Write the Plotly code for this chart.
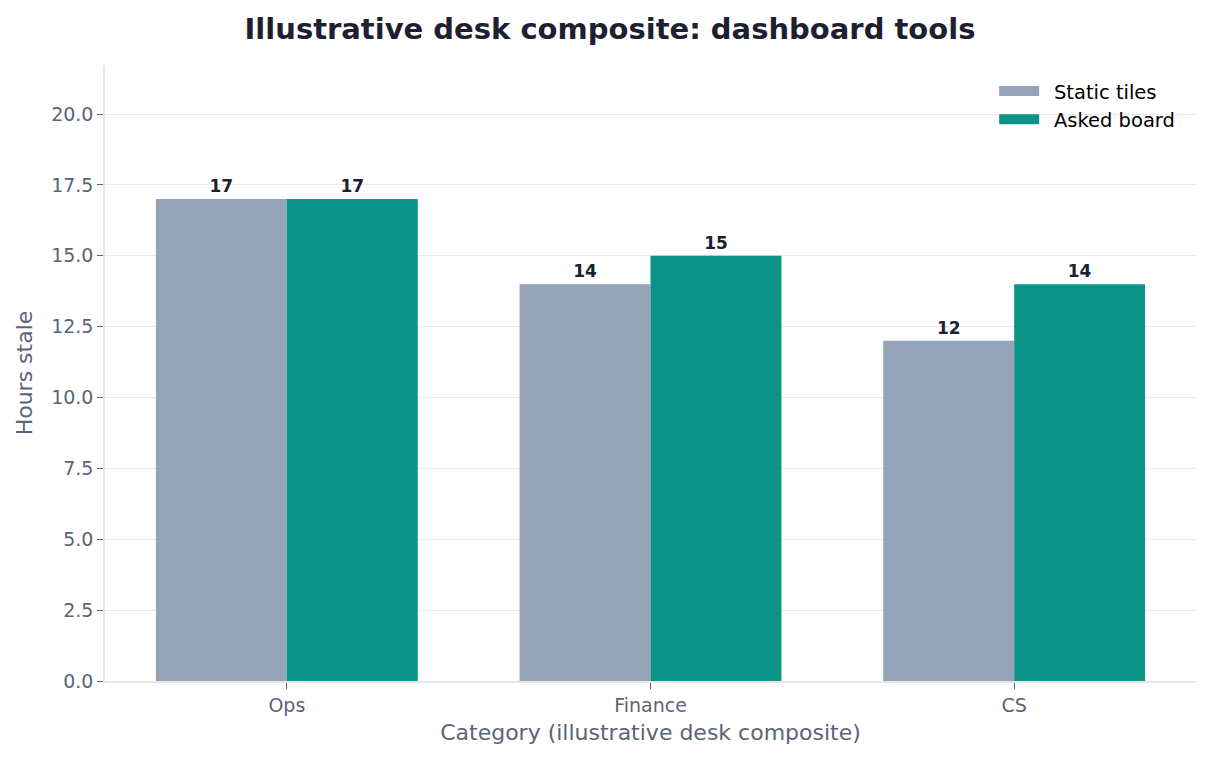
import plotly.graph_objects as go

categories = ["Ops", "Finance", "CS"]
static_tiles = [17, 14, 12]
asked_board = [17, 15, 14]

FONT = "DejaVu Sans"
AXIS_GREY = "#5b6477"

series = [
    ("Static tiles", static_tiles, "#94a3b8"),
    ("Asked board", asked_board, "#0d9488"),
]

fig = go.Figure()
for name, vals, color in series:
    fig.add_trace(
        go.Bar(
            x=categories,
            y=vals,
            name=name,
            showlegend=False,
            marker=dict(color=color, line=dict(width=0)),
            text=[str(v) for v in vals],
            textposition="outside",
            cliponaxis=False,
            textfont=dict(family=FONT, size=17, color="#1c2030", weight="bold"),
        )
    )

# legend entries drawn as thick lines so the swatches look like wide patches
# (en space in front of the name gives the gap between swatch and label)
for name, vals, color in series:
    fig.add_trace(
        go.Scatter(
            x=[None],
            y=[None],
            mode="lines",
            name="\u2002" + name,
            line=dict(color=color, width=14),
        )
    )

# the page body has an 8px margin, so the figure is sized to fit inside it
fig.update_layout(
    width=1204,
    height=752,
    barmode="group",
    bargap=0.28,
    bargroupgap=0,
    plot_bgcolor="white",
    paper_bgcolor="white",
    margin=dict(l=97, r=16, t=57, b=79),
    font=dict(family=FONT, color=AXIS_GREY),
    title=dict(
        text="<b>Illustrative desk composite: dashboard tools</b>",
        x=0.5,
        xanchor="center",
        y=0.972,
        yanchor="middle",
        font=dict(family=FONT, size=29, color="#1c2030"),
    ),
    legend=dict(
        x=0.9855,
        y=0.989,
        xanchor="right",
        yanchor="top",
        bgcolor="rgba(0,0,0,0)",
        font=dict(family=FONT, size=19.5, color="black"),
        itemwidth=40,
    ),
    xaxis=dict(
        title=dict(text="Category (illustrative desk composite)", font=dict(size=22, color=AXIS_GREY), standoff=10),
        range=[-0.5, 2.5],
        showline=True,
        linecolor="#e5e7eb",
        linewidth=1.5,
        ticks="outside",
        ticklen=6,
        tickcolor=AXIS_GREY,
        tickfont=dict(size=19, color=AXIS_GREY),
        showgrid=False,
    ),
    yaxis=dict(
        title=dict(text="Hours stale", font=dict(size=22, color=AXIS_GREY), standoff=12),
        range=[0, 21.73],
        dtick=2.5,
        tickformat=".1f",
        showline=True,
        linecolor="#e5e7eb",
        linewidth=1.5,
        ticks="outside",
        ticklen=6,
        tickcolor=AXIS_GREY,
        tickfont=dict(size=19, color=AXIS_GREY),
        showgrid=True,
        gridcolor="#e6e9ed",
        gridwidth=1.4,
        zeroline=False,
    ),
)

fig.write_html("out.html")
